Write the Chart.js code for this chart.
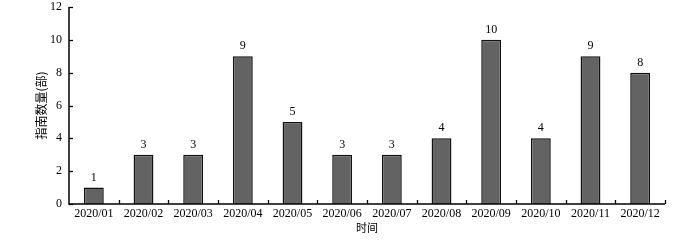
<!DOCTYPE html>
<html><head><meta charset="utf-8">
<script src="https://cdn.jsdelivr.net/npm/chart.js@4/dist/chart.umd.min.js"></script>
<style>html,body{margin:0;padding:0;background:#fff}#w{width:700px;height:242px}</style>
</head><body><div id="w"><canvas id="c"></canvas></div>
<script>
const categories = ["2020/01","2020/02","2020/03","2020/04","2020/05","2020/06","2020/07","2020/08","2020/09","2020/10","2020/11","2020/12"];
const counts = [1,3,3,9,5,3,3,4,10,4,9,8];
const yTicks = [0,2,4,6,8,10,12];
const yTitle = "指南数量(部)";
const xTitle = "时间";

const serif = "'Liberation Serif','DejaVu Serif',serif";
const cjk = "'Noto Sans CJK SC','Liberation Serif',serif";

const innerTicks = {
  id: 'innerTicks',
  afterDraw(chart) {
    const ctx = chart.ctx, x = chart.scales.x, y = chart.scales.y;
    ctx.save();
    ctx.strokeStyle = '#000';
    ctx.lineWidth = 1.3;
    yTicks.forEach(v => {
      const py = Math.round(y.getPixelForValue(v)) + 0.5;
      ctx.beginPath(); ctx.moveTo(x.left, py); ctx.lineTo(x.left + 4, py); ctx.stroke();
    });
    const step = x.getPixelForValue(1) - x.getPixelForValue(0);
    for (let i = 1; i <= categories.length; i++) {
      const px = Math.round(x.getPixelForValue(i - 1) + step / 2) + 0.5;
      ctx.beginPath(); ctx.moveTo(px, y.bottom); ctx.lineTo(px, y.bottom - 4); ctx.stroke();
    }
    ctx.lineWidth = 1.5;
    ctx.beginPath();
    ctx.moveTo(x.left, y.top); ctx.lineTo(x.left, y.bottom); ctx.lineTo(x.right, y.bottom);
    ctx.stroke();
    const meta = chart.getDatasetMeta(0);
    ctx.fillStyle = '#000';
    ctx.font = "12px " + serif;
    ctx.textAlign = 'center';
    ctx.textBaseline = 'bottom';
    meta.data.forEach((bar, i) => {
      ctx.fillText(String(counts[i]), bar.x, bar.y - 4);
    });
    ctx.restore();
  }
};

new Chart(document.getElementById('c'), {
  type: 'bar',
  data: {
    labels: categories,
    datasets: [{
      data: counts,
      backgroundColor: '#636363',
      borderColor: '#111',
      borderWidth: 1.5,
      barPercentage: 0.4,
      categoryPercentage: 1.0
    }]
  },
  options: {
    responsive: true,
    maintainAspectRatio: false,
    animation: false,
    events: [],
    layout: { padding: { left: 34, right: 35, top: 0, bottom: 0 } },
    plugins: { legend: { display: false }, tooltip: { enabled: false } },
    scales: {
      x: {
        grid: { display: false, drawTicks: false },
        border: { display: false },
        ticks: { color: '#000', font: { family: serif, size: 12 }, padding: 3, maxRotation: 0, autoSkip: false },
        title: { display: true, text: xTitle, color: '#000', font: { family: cjk, size: 11 }, padding: { top: 0, bottom: 8 } },
        afterFit(s) { s.height = 38; }
      },
      y: {
        min: 0, max: 12,
        grid: { display: false, drawTicks: false },
        border: { display: false },
        ticks: { stepSize: 2, color: '#000', font: { family: serif, size: 12 }, padding: 7 },
        title: { display: true, text: yTitle, color: '#000', font: { family: cjk, size: 12 }, padding: { top: 0, bottom: 0 } },
        afterFit(s) { s.width = 35; s.paddingTop = 7; s.paddingBottom = 0; }
      }
    }
  },
  plugins: [innerTicks]
});
</script>
</body></html>
